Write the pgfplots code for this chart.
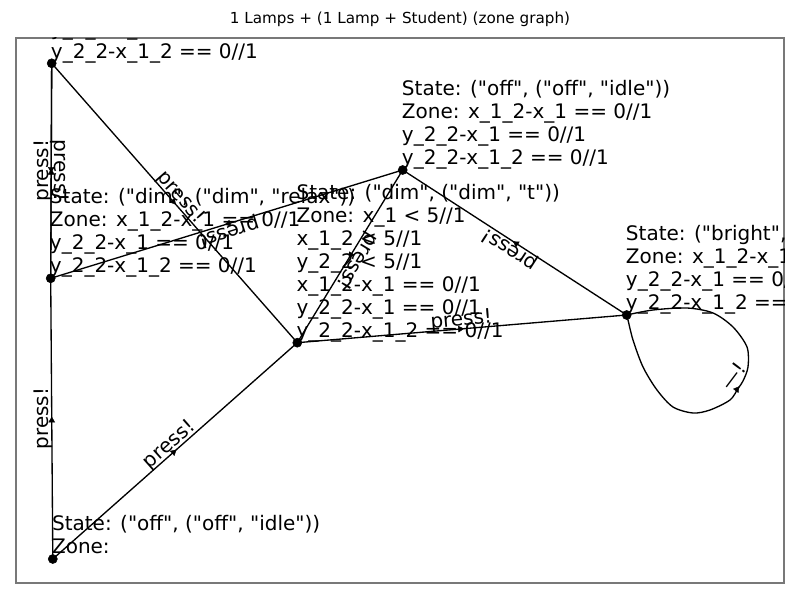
\documentclass[border=0pt]{standalone}
\usepackage{fontspec}
\setmainfont{DejaVu Sans}[Ligatures=TeXOff]
\usepackage{pgfplots}
\pgfplotsset{compat=1.18}
\definecolor{framegray}{RGB}{120,120,120}
\newcommand{\lf}{\fontsize{15pt}{17.25pt}\selectfont}
\newcommand{\press}{\raisebox{2.25pt}{press!}}
\tikzset{
  lab/.style={pos=0.5, sloped, allow upside down, anchor=base, inner sep=0pt, font=\lf},
  nlab/.style={anchor=base west, inner sep=0pt, font=\lf},
}
\begin{document}
\begin{tikzpicture}[x=0.75pt,y=0.75pt]
\useasboundingbox (0,0) rectangle (800,600);
\begin{axis}[
  at={(16,17)}, anchor=south west,
  scale only axis, width=576pt, height=408.75pt,
  xmin=16, xmax=784, ymin=17, ymax=562,
  xtick=\empty, ytick=\empty,
  axis line style={draw=framegray, line width=1.2pt},
  title={1 Lamps + (1 Lamp + Student) (zone graph)},
  title style={at={(0.5,1)}, anchor=base, yshift=4.5pt, inner sep=0pt,
    font=\fontsize{11.4pt}{13pt}\selectfont},
  edge/.style={black, line width=1pt, no markers},
  head/.style={only marks, black, mark=triangle*, mark size=2.6pt,
    mark options={rotate=#1, draw=black, fill=black, line width=0.3pt}},
]
% edges
\addplot[edge] coordinates {(52.8,41) (50.7,321.7)} node[lab] {\press};        % C -> B
\addplot[edge] coordinates {(52.8,41) (297.3,257.3)} node[lab] {\press};       % C -> D
\addplot[edge] coordinates {(51.7,536.7) (50.7,321.7)} node[lab] {\press};     % A -> B
\addplot[edge] coordinates {(50.7,321.7) (51.7,536.7)} node[lab] {\press};     % B -> A
\addplot[edge] coordinates {(51.7,536.7) (297.3,257.3)} node[lab] {\press};    % A -> D
\addplot[edge] coordinates {(402.7,430) (50.7,321.7)} node[lab] {\press};      % E -> B
\addplot[edge] coordinates {(402.7,430) (297.3,257.3)} node[lab] {\press};     % E -> D
\addplot[edge] coordinates {(626.7,285) (402.7,430)} node[lab] {\press};       % F -> E
\addplot[edge] coordinates {(297.3,257.3) (626.7,285)} node[lab] {\press};     % D -> F
% self loop on F
\addplot[edge, smooth] coordinates {
  (626.7,285) (628,280) (633,260) (643,233) (657,210) (673,193) (693,187)
  (710,190) (730,200) (738,211.5) (743,219) (748,233) (747,253) (733,273) (713,287)
  (687,292) (653,290) (626.7,285)};
\node[rotate=53, anchor=center, inner sep=0pt, font=\lf] at (axis cs:733,224) {—!};
% arrowheads at the edge midpoints (rotation = direction - 90)
\addplot[head=0.4]    coordinates {(51.75,179.5)};   % C -> B
\addplot[head=-48.5]  coordinates {(173.6,147.8)};   % C -> D
\addplot[head=180.3]  coordinates {(51.2,431)};      % A -> B
\addplot[head=0.3]    coordinates {(51.2,427.4)};    % B -> A
\addplot[head=-138.7] coordinates {(173.3,398.4)};   % A -> D
\addplot[head=107.1]  coordinates {(228.4,376.4)};   % E -> B
\addplot[head=148.6]  coordinates {(350.9,345.2)};   % E -> D
\addplot[head=57.1]   coordinates {(516.2,356.5)};   % F -> E
\addplot[head=-85.2]  coordinates {(460.2,271)};     % D -> F
\addplot[head=-37.4]  coordinates {(736.9,210.6)};   % loop
% states
\addplot[only marks, mark=*, mark size=3.4pt, black] coordinates {
  (51.7,536.7) (50.7,321.7) (52.8,41) (297.3,257.3) (402.7,430) (626.7,285)};
% state labels
\node[nlab] at (axis cs:51.8,46.7) {\begin{tabular}[b]{@{}l@{}}State: ("off", ("off", "idle"))\\Zone:\end{tabular}};
\node[nlab] at (axis cs:49.7,327.2) {\begin{tabular}[b]{@{}l@{}}State: ("dim", ("dim", "relax"))\\Zone: x\_1\_2-x\_1 == 0//1\\y\_2\_2-x\_1 == 0//1\\y\_2\_2-x\_1\_2 == 0//1\end{tabular}};
\node[nlab] at (axis cs:296.3,262.8) {\begin{tabular}[b]{@{}l@{}}State: ("dim", ("dim", "t"))\\Zone: x\_1 < 5//1\\x\_1\_2 < 5//1\\y\_2\_2 < 5//1\\x\_1\_2-x\_1 == 0//1\\y\_2\_2-x\_1 == 0//1\\y\_2\_2-x\_1\_2 == 0//1\end{tabular}};
\node[nlab] at (axis cs:401.7,435.5) {\begin{tabular}[b]{@{}l@{}}State: ("off", ("off", "idle"))\\Zone: x\_1\_2-x\_1 == 0//1\\y\_2\_2-x\_1 == 0//1\\y\_2\_2-x\_1\_2 == 0//1\end{tabular}};
\node[nlab] at (axis cs:625.7,290.5) {\begin{tabular}[b]{@{}l@{}}State: ("bright", ("bright", "idle"))\\Zone: x\_1\_2-x\_1 == 0//1\\y\_2\_2-x\_1 == 0//1\\y\_2\_2-x\_1\_2 == 0//1\end{tabular}};
\node[nlab] at (axis cs:50.7,541) {\begin{tabular}[b]{@{}l@{}}State: ("dim", ("off", "idle"))\\Zone: x\_1\_2-x\_1 == 0//1\\y\_2\_2-x\_1 == 0//1\\y\_2\_2-x\_1\_2 == 0//1\end{tabular}};
\end{axis}
\end{tikzpicture}
\end{document}
